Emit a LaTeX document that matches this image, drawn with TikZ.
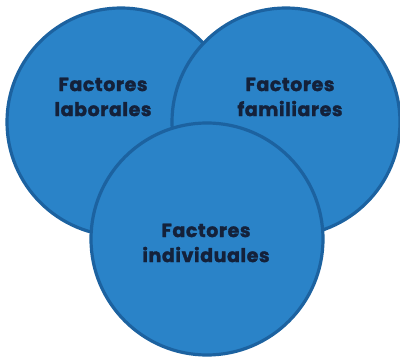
\documentclass[tikz,border=0pt]{standalone}
\usepackage{fontspec}
\setmainfont{Poppins}[BoldFeatures={FakeBold=1.5, LetterSpace=3}]
\definecolor{circfill}{HTML}{2A83C8}
\definecolor{circedge}{HTML}{1C62A0}
\definecolor{labtext}{HTML}{14213A}
\tikzset{
  circ/.style={draw=circedge, fill=circfill, circle, line width=3.2pt, inner sep=0pt, minimum size=228pt},
  lab/.style={align=center, text=labtext, font=\fontsize{19}{25}\selectfont\bfseries}
}
\begin{document}
\begin{tikzpicture}[x=1pt, y=-1pt]
      \useasboundingbox (0,0) rectangle (400,358);

      \node[circ] (lab) at (121,122) {};
      \node[circ] (fam) at (286,122) {};
      \node[circ, minimum size=232pt] (ind) at (207,239) {};

      \node[lab] (tlab) at (103,97) {Factores\\laborales};
      \node[lab] (tfam) at (290,97) {Factores\\familiares};
      \node[lab] (tind) at (206,243) {Factores\\individuales};
    \end{tikzpicture}
\end{document}
